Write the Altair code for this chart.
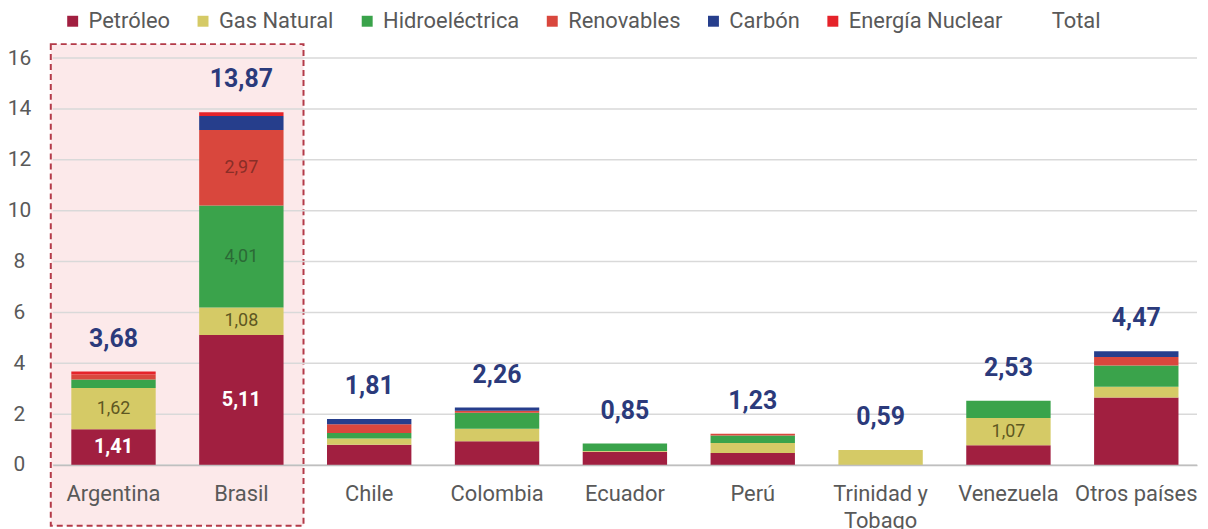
import altair as alt
import pandas as pd

countries = ["Argentina", "Brasil", "Chile", "Colombia", "Ecuador", "Perú",
             "Trinidad y Tobago", "Venezuela", "Otros países"]
sources = ["Petróleo", "Gas Natural", "Hidroeléctrica", "Renovables", "Carbón", "Energía Nuclear"]

petroleo = [1.41, 5.11, 0.80, 0.93, 0.52, 0.47, 0.00, 0.78, 2.65]
gas_natural = [1.62, 1.08, 0.24, 0.50, 0.03, 0.40, 0.59, 1.07, 0.43]
hidroelectrica = [0.33, 4.01, 0.22, 0.62, 0.30, 0.29, 0.00, 0.68, 0.83]
renovables = [0.20, 2.97, 0.34, 0.08, 0.00, 0.07, 0.00, 0.00, 0.34]
carbon = [0.00, 0.55, 0.21, 0.13, 0.00, 0.00, 0.00, 0.00, 0.22]
nuclear = [0.12, 0.15, 0.00, 0.00, 0.00, 0.00, 0.00, 0.00, 0.00]
totals = [3.68, 13.87, 1.81, 2.26, 0.85, 1.23, 0.59, 2.53, 4.47]

# segments carrying a value label: (country, source, style)
labeled = [("Argentina", "Petróleo", "w"), ("Argentina", "Gas Natural", "d"),
           ("Brasil", "Petróleo", "w"), ("Brasil", "Gas Natural", "d"),
           ("Brasil", "Hidroeléctrica", "d"), ("Brasil", "Renovables", "d"),
           ("Venezuela", "Gas Natural", "d")]

y_ticks = [0, 2, 4, 6, 8, 10, 12, 14, 16]

series = [petroleo, gas_natural, hidroelectrica, renovables, carbon, nuclear]
lab_map = {(c, s): st for c, s, st in labeled}
rows = []
for si, (src, vals) in enumerate(zip(sources, series)):
    for ci, (c, v) in enumerate(zip(countries, vals)):
        rows.append({"country": c, "source": src, "value": v, "idx": si,
                     "lab": lab_map.get((c, src), "")})
df = pd.DataFrame(rows)
tot_df = pd.DataFrame({"country": countries, "total": totals})
grid_df = pd.DataFrame({"v": y_ticks})
box_df = pd.DataFrame({"k": [1]})

FONT = "Roboto"
GRAY = "#595959"
W, H = 1150, 409

legend_domain = sources + ["Total"]
legend_range = ["#A11F40", "#D5CA66", "#3AA34B", "#D9473D", "#263E8C", "#E5232A", "#FFFFFF"]

x_scale = alt.Scale(paddingInner=0.34, paddingOuter=0.145)
y_scale = alt.Scale(domain=[0, 16], nice=False)

x_axis = alt.Axis(labelAngle=0, ticks=False, tickSize=0, domain=True,
                  domainColor="#BFBFBF", domainWidth=1.5, zindex=1,
                  labelPadding=19, labelFontSize=22, labelFont=FONT,
                  labelColor=GRAY, labelLineHeight=27,
                  labelExpr="datum.value == 'Trinidad y Tobago' ? ['Trinidad y', 'Tobago'] : datum.value")
y_axis = alt.Axis(values=y_ticks, grid=False, domain=False, ticks=False, tickSize=0,
                  labelPadding=34, labelAlign="center", labelFontSize=21, zindex=1,
                  labelFont=FONT, labelColor=GRAY, orient="left")


def xe():
    return alt.X("country:N", sort=countries, scale=x_scale, title=None, axis=x_axis)


def ye(field):
    return alt.Y(field, scale=y_scale, title=None, axis=y_axis)


box = alt.Chart(box_df).mark_rect(
    fill="#FCE9EA", stroke="#B33A48", strokeDash=[6, 4], strokeWidth=2
).encode(x=alt.value(-2), x2=alt.value(252), y=alt.value(-14), y2=alt.value(470))

grid = alt.Chart(grid_df).mark_rule(color="#D9D9D9", strokeWidth=1.5).encode(
    y=ye("v:Q"),
    x=alt.value(0), x2=alt.value(W)
)

base = alt.Chart(df).transform_stack(
    stack="value", groupby=["country"], as_=["y0", "y1"],
    sort=[alt.SortField("idx", order="ascending")]
)

bars = base.transform_filter("datum.value > 0").mark_bar().encode(
    x=xe(),
    y=ye("y0:Q"),
    y2="y1:Q",
    color=alt.Color("source:N", scale=alt.Scale(domain=legend_domain, range=legend_range),
                    legend=alt.Legend(title=None, orient="none", direction="horizontal",
                                      legendX=9, legendY=-48, symbolType="square",
                                      symbolSize=121, symbolStrokeWidth=0, labelOffset=5,
                                      columnPadding=22, labelFontSize=22, labelFont=FONT,
                                      labelColor=GRAY, padding=0, symbolOpacity=1)),
)

lbl_expr = "replace(format(datum.value, '.2f'), '.', ',')"

white_txt = base.transform_filter("datum.lab == 'w'").transform_calculate(
    mid="(datum.y0 + datum.y1) / 2", lbl=lbl_expr
).mark_text(font=FONT, fontSize=20, fontWeight="bold", color="white", baseline="middle").encode(
    x=xe(),
    y=ye("mid:Q"),
    text="lbl:N",
)

dark_txt = base.transform_filter("datum.lab == 'd'").transform_calculate(
    mid="(datum.y0 + datum.y1) / 2", lbl=lbl_expr,
    tc="datum.source == 'Gas Natural' ? '#5E5722' : datum.source == 'Hidroeléctrica' ? '#2B6A36' : '#8A2E27'"
).mark_text(font=FONT, fontSize=18, baseline="middle").encode(
    x=xe(),
    y=ye("mid:Q"),
    text="lbl:N",
    color=alt.Color("tc:N", scale=None),
)

tot_txt = alt.Chart(tot_df).transform_calculate(
    lbl="replace(format(datum.total, '.2f'), '.', ',')"
).mark_text(font=FONT, fontSize=25, fontWeight="bold", color="#2B3A7B",
            baseline="alphabetic", dy=-25).encode(
    x=xe(),
    y=ye("total:Q"),
    text="lbl:N",
)

chart = alt.layer(box, grid, bars, white_txt, dark_txt, tot_txt).properties(
    width=W, height=H,
    padding={"left": 45, "top": 49, "right": 3, "bottom": 63},
    autosize=alt.AutoSizeParams(type="none"),
).configure(background="white").configure_view(stroke=None)

chart.save("out.html", embed_options={"renderer": "svg", "actions": False})
